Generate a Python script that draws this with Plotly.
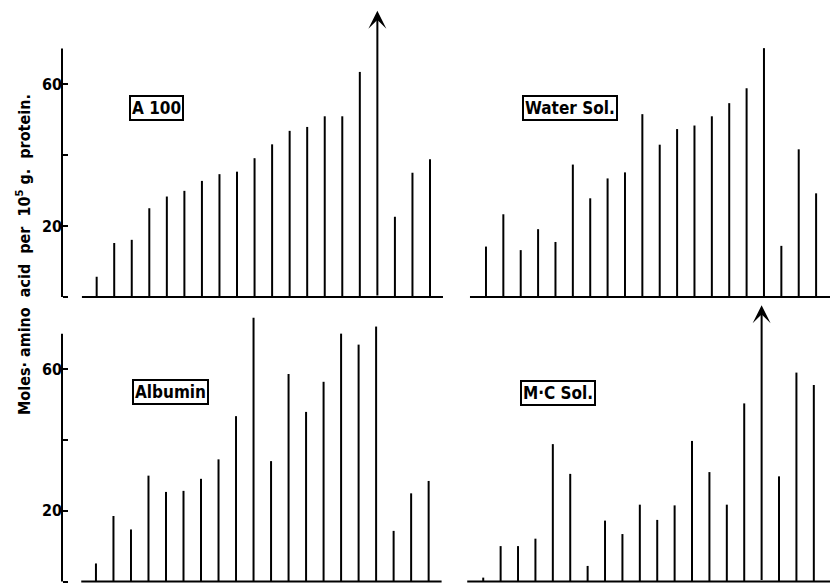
import plotly.graph_objects as go

# ---- data ----
positions = list(range(1, 21))

a100 = [5.7, 15.2, 16.1, 25.0, 28.3, 29.9, 32.7, 34.6, 35.3, 39.1,
        43.0, 46.8, 47.9, 50.9, 50.9, 63.4, 80.6, 22.6, 35.0, 38.8]
water_sol = [14.2, 23.3, 13.2, 19.1, 15.5, 37.3, 27.8, 33.4, 35.1, 51.5,
             42.9, 47.3, 48.3, 50.9, 54.6, 58.8, 70.1, 14.4, 41.6, 29.2]
albumin = [5.1, 18.5, 14.7, 29.9, 25.3, 25.6, 29.0, 34.5, 46.7, 74.5,
           34.0, 58.6, 47.9, 56.4, 70.0, 66.9, 72.0, 14.3, 24.9, 28.4]
mc_sol = [1.1, 10.0, 10.0, 12.1, 38.8, 30.4, 4.4, 17.2, 13.4, 21.7,
          17.4, 21.5, 39.7, 30.9, 21.7, 50.3, 78.0, 29.7, 59.0, 55.5]

panel_names = ["A 100", "Water Sol.", "Albumin", "M·C Sol."]
panel_series = [a100, water_sol, albumin, mc_sol]
off_scale = [[17], [], [], [17]]          # positions drawn as arrows (off-scale)

tick_vals = [0, 20, 40, 60]
tick_text = ["", "20", "", "60"]
axis_top = 70

W, H = 830, 583
FONT = "DejaVu Sans Condensed, Liberation Sans Narrow, Arial Narrow, sans-serif"

# ---- layout geometry ----
split_x = 450 / W
split_y = 1 - 300 / H
x_ranges = [[-4.51, 21.14], [-1.07, 20.80], [-4.48, 21.22], [-0.91, 20.93]]
y_ranges = [[-0.85, 83.66], [-0.85, 83.66], [-0.42, 79.5], [-0.42, 79.5]]
x_domains = [[0, split_x], [split_x, 1], [0, split_x], [split_x, 1]]
y_domains = [[split_y, 1], [split_y, 1], [0, split_y], [0, split_y]]
baseline_ext = [[0.16, 20.74], [0.08, 20.8], [0.16, 20.74], [0.08, 20.93]]
label_pos = [(156, 107.7), (570, 108.3), (170.5, 392), (558, 393)]
yaxis_px = 62

fig = go.Figure()
layout = dict(width=W, height=H, margin=dict(l=0, r=0, t=0, b=0),
              paper_bgcolor="white", plot_bgcolor="rgba(0,0,0,0)",
              showlegend=False)
shapes = []
annotations = []

for k in range(4):
    sfx = "" if k == 0 else str(k + 1)
    xr, yr = "x" + sfx, "y" + sfx
    xs, ys = [], []
    for p, v in zip(positions, panel_series[k]):
        if p in off_scale[k]:
            annotations.append(dict(x=p, y=v, ax=p, ay=0, xref=xr, yref=yr,
                                    axref=xr, ayref=yr, text="", showarrow=True,
                                    arrowhead=3, arrowsize=1.5, arrowwidth=2,
                                    arrowcolor="black", standoff=0, startstandoff=0))
        else:
            xs += [p, p, None]
            ys += [0, v, None]
    fig.add_trace(go.Scatter(x=xs, y=ys, mode="lines", xaxis=xr, yaxis=yr,
                             line=dict(color="black", width=2), hoverinfo="skip"))
    layout["xaxis" + sfx] = dict(domain=x_domains[k], range=x_ranges[k],
                                 visible=False, anchor=yr, fixedrange=True)
    left = k in (0, 2)
    ya = dict(domain=y_domains[k], range=y_ranges[k], anchor=xr,
              showgrid=False, zeroline=False, showline=False, fixedrange=True)
    if left:
        ya.update(anchor="free", position=yaxis_px / W, tickvals=tick_vals,
                  ticktext=tick_text, ticks="inside", ticklen=5, tickwidth=2,
                  tickcolor="black",
                  tickfont=dict(family=FONT, size=16, color="black", weight="bold"))
        shapes.append(dict(type="line", xref="paper", yref=yr,
                           x0=yaxis_px / W, x1=yaxis_px / W, y0=0, y1=axis_top,
                           line=dict(color="black", width=2)))
    else:
        ya.update(visible=False)
    layout["yaxis" + sfx] = ya
    shapes.append(dict(type="line", xref=xr, yref=yr,
                       x0=baseline_ext[k][0], x1=baseline_ext[k][1], y0=0, y1=0,
                       line=dict(color="black", width=2)))
    cx, cy = label_pos[k]
    annotations.append(dict(x=cx / W, y=1 - cy / H, xref="paper", yref="paper",
                            text=panel_names[k], showarrow=False,
                            font=dict(family=FONT, size=17, color="black", weight="bold"),
                            bordercolor="black", borderwidth=2, borderpad=1,
                            bgcolor="white", xanchor="center", yanchor="middle"))

nb = "\u00a0"
title = f"Moles·{nb}amino{nb}{nb}acid{nb}{nb}per{nb}{nb}10<sup>5</sup>{nb}g.{nb}{nb}protein."
annotations.append(dict(x=24 / W, y=1 - 255 / H, xref="paper", yref="paper",
                        text=title, showarrow=False, textangle=-90,
                        font=dict(family=FONT, size=16, color="black", weight="bold"),
                        xanchor="center", yanchor="middle"))

layout["shapes"] = shapes
layout["annotations"] = annotations
fig.update_layout(**layout)
fig.write_html("out.html", config={"displayModeBar": False},
               post_script="document.body.style.margin='0';document.body.style.overflow='hidden';")
